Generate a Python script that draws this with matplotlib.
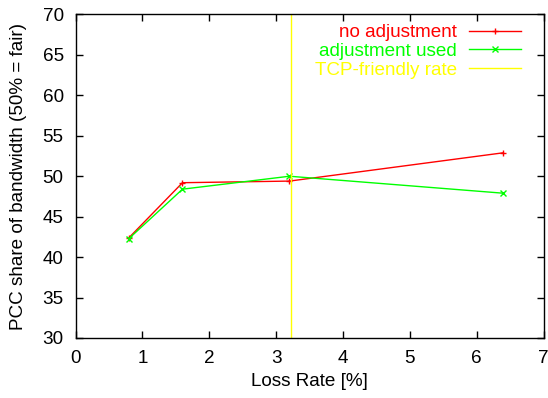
import matplotlib
matplotlib.use('Agg')
import matplotlib.pyplot as plt

# values
loss_rate = [0.8, 1.6, 3.2, 6.4]
no_adjust = [42.4, 49.2, 49.4, 52.9]
adjust_used = [42.3, 48.4, 50.0, 47.9]
tcp_friendly = 3.22

x_ticks = [0, 1, 2, 3, 4, 5, 6, 7]
y_ticks = [30, 35, 40, 45, 50, 55, 60, 65, 70]

plt.rcParams['font.family'] = ['Liberation Sans', 'DejaVu Sans']
plt.rcParams['font.size'] = 13.6

fig = plt.figure(figsize=(5.48, 3.98), dpi=100)
ax = fig.add_axes([0.1378, 0.1508, 0.8540, 0.8128])

ax.plot(loss_rate, no_adjust, color='#ff0000', lw=1, marker='+', ms=5, mew=1,
        label='no adjustment')
ax.plot(loss_rate, adjust_used, color='#00ff00', lw=1, marker='x', ms=4, mew=1,
        label='adjustment used')
ax.axvline(tcp_friendly, color='#ffff00', lw=1, label='TCP-friendly rate')

ax.set_xlim(0, 7)
ax.set_ylim(30, 70)
ax.set_xticks(x_ticks)
ax.set_yticks(y_ticks)
ax.tick_params(axis='both', direction='in', top=True, right=True, length=5, width=1)
ax.tick_params(axis='y', pad=8.5)
ax.tick_params(axis='x', pad=9)
for s in ax.spines.values():
    s.set_linewidth(1)

ax.set_xlabel('Loss Rate [%]', labelpad=4)
ax.set_ylabel('PCC share of bandwidth (50% = fair)', labelpad=11)

leg = ax.legend(loc='upper right', bbox_to_anchor=(0.951, 0.970), frameon=False,
                markerfirst=False, labelcolor='linecolor', handlelength=2.73,
                handletextpad=0.63, labelspacing=0.07, borderpad=0, borderaxespad=0)

plt.savefig('out.png', dpi=100)
